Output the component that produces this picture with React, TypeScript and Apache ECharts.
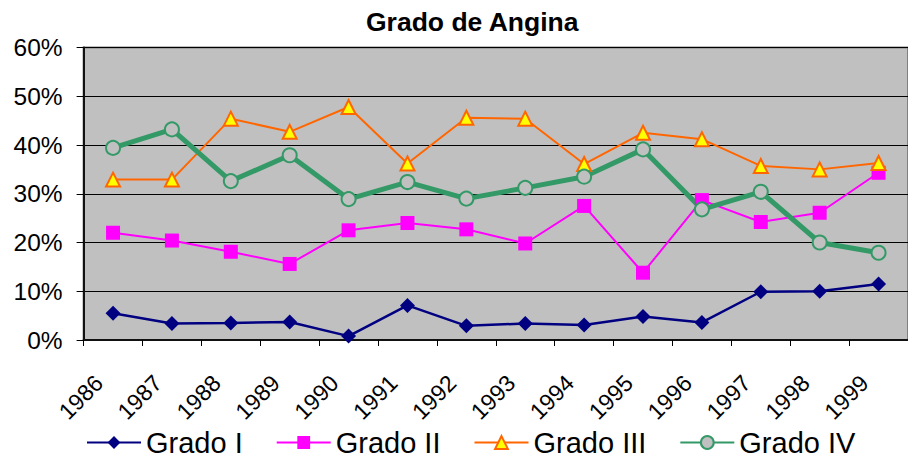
import React, { useEffect, useRef } from "react";
import * as echarts from "echarts";

const years = ["1986", "1987", "1988", "1989", "1990", "1991", "1992", "1993", "1994", "1995", "1996", "1997", "1998", "1999"];
const gradoI = [5.5, 3.4, 3.5, 3.7, 0.8, 7.1, 2.9, 3.4, 3.1, 4.8, 3.6, 9.9, 10.0, 11.5];
const gradoII = [22.0, 20.4, 18.1, 15.6, 22.5, 24.0, 22.7, 19.8, 27.5, 13.8, 28.7, 24.2, 26.1, 34.3];
const gradoIII = [32.9, 32.9, 45.4, 42.7, 47.8, 36.2, 45.6, 45.4, 36.1, 42.5, 41.2, 35.7, 35.0, 36.3];
const gradoIV = [39.4, 43.2, 32.6, 37.9, 28.9, 32.4, 29.0, 31.2, 33.5, 39.1, 26.8, 30.4, 20.0, 17.9];
const yTicks = [0, 10, 20, 30, 40, 50, 60];

const FONT = "Liberation Sans, Arial, sans-serif";

export default function App() {
  const ref = useRef<HTMLDivElement>(null);
  useEffect(() => {
    if (!ref.current) return;
    const chart = echarts.init(ref.current, undefined, { renderer: "svg" });
    chart.setOption({
      animation: false,
      backgroundColor: "#ffffff",
      title: {
        text: "Grado de Angina",
        left: 361,
        top: 3,
        textStyle: { fontFamily: FONT, fontSize: 26.5, fontWeight: "bold", color: "#000" },
      },
      legend: {
        left: 86,
        top: 428,
        padding: 0,
        itemWidth: 54,
        itemHeight: 16,
        itemGap: 33,
        textStyle: { fontFamily: FONT, fontSize: 29, color: "#000" },
        data: ["Grado I", "Grado II", "Grado III", "Grado IV"],
      },
      grid: {
        left: 83.6,
        right: -6.7,
        top: 47.5,
        bottom: 121,
        show: true,
        backgroundColor: "#C0C0C0",
        borderColor: "#808080",
        borderWidth: 2,
      },
      xAxis: {
        type: "category",
        data: years,
        boundaryGap: true,
        axisLine: { lineStyle: { color: "#111", width: 2 } },
        axisTick: { show: true, length: 6, lineStyle: { color: "#000", width: 1 } },
        axisLabel: {
          rotate: 45,
          margin: 25,
          padding: [0, 20, 0, 0],
          fontFamily: FONT,
          fontSize: 23,
          color: "#000",
          interval: 0,
        },
      },
      yAxis: {
        type: "value",
        min: yTicks[0],
        max: yTicks[yTicks.length - 1],
        interval: 10,
        axisLine: { show: true, lineStyle: { color: "#111", width: 2 } },
        axisTick: { show: true, length: 7, lineStyle: { color: "#000" } },
        splitLine: { show: true, lineStyle: { color: "#000", width: 1 } },
        axisLabel: {
          formatter: "{value}%",
          margin: 21,
          fontFamily: FONT,
          fontSize: 24.5,
          color: "#000",
        },
      },
      series: [
        {
          name: "Grado I",
          type: "line",
          data: gradoI,
          symbol: "diamond",
          symbolSize: 15,
          lineStyle: { color: "#000080", width: 2.5 },
          itemStyle: { color: "#000080" },
        },
        {
          name: "Grado II",
          type: "line",
          data: gradoII,
          symbol: "rect",
          symbolSize: 14,
          lineStyle: { color: "#FF00FF", width: 2 },
          itemStyle: { color: "#FF00FF" },
        },
        {
          name: "Grado III",
          type: "line",
          data: gradoIII,
          symbol: "triangle",
          symbolSize: 14,
          lineStyle: { color: "#FF6600", width: 2 },
          itemStyle: { color: "#FFFF00", borderColor: "#FF6600", borderWidth: 2 },
        },
        {
          name: "Grado IV",
          type: "line",
          data: gradoIV,
          symbol: "circle",
          symbolSize: 14,
          lineStyle: { color: "#339966", width: 5 },
          itemStyle: { color: "#C0C0C0", borderColor: "#339966", borderWidth: 2 },
        },
      ],
    });
    return () => chart.dispose();
  }, []);
  return (
    <div
      ref={ref}
      style={{ position: "absolute", left: 0, top: 0, width: 908, height: 461 }}
    />
  );
}
